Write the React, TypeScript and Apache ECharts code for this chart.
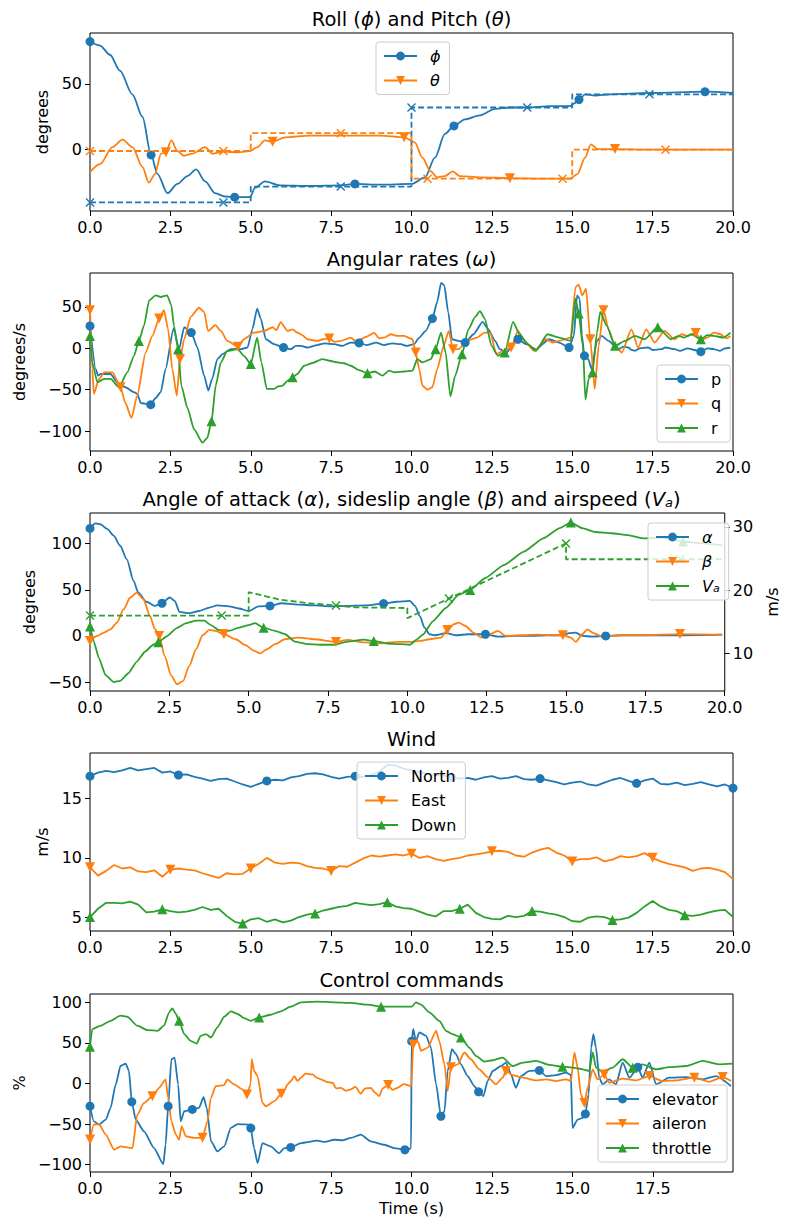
import { useEffect, useRef } from "react";
import * as echarts from "echarts";

type P = [number, number];

const FONT = "DejaVu Sans";
const C_BLUE = "#1f77b4";
const C_ORANGE = "#ff7f0e";
const C_GREEN = "#2ca02c";

// ---------- Plot 1: Roll and Pitch ----------
const PHI: P[] = [[0,82],[0.31,79],[0.62,72],[0.93,60],[1.32,42],[1.63,25],[1.9,-4],[2.1,-18.5],[2.41,-33],[2.72,-26],[3.03,-20],[3.3,-15],[3.58,-24],[3.89,-33],[4.2,-35.5],[4.5,-36],[4.98,-36],[5.13,-29],[5.44,-24],[5.91,-27],[6.84,-27.5],[7.78,-27],[8.24,-26],[9.02,-26.5],[10.0,-26],[10.42,-21],[10.73,-6],[11.04,12],[11.32,18],[11.66,23],[12.13,26],[12.6,31],[13.06,32],[13.61,32],[14.31,33],[14.93,33],[15.05,35],[15.21,38],[15.4,42],[15.71,41],[16.17,42],[17.42,43],[19.13,44],[20,43]];
const PHI_MARKS = [0, 1.9, 4.5, 8.24, 11.32, 15.21, 19.13];
const THETA: P[] = [[0,-17],[0.31,-11],[0.7,2],[1.01,7.6],[1.32,2],[1.63,-13],[1.83,-25],[2.02,-18.5],[2.21,-3],[2.36,-2],[2.53,7],[2.72,-1],[2.92,-4.6],[3.19,-3],[3.58,2],[3.81,-3],[4.17,-1.5],[4.6,-2],[4.98,-1],[5.21,2],[5.44,7],[5.68,6],[6.07,9.4],[6.84,10.7],[7.78,10.7],[9.02,10.7],[9.77,9.4],[10.1,5.6],[10.34,-6],[10.58,-16],[10.8,-21],[11.04,-20],[11.28,-16.5],[11.5,-20],[12.13,-21],[13.06,-21.6],[14.0,-22],[14.93,-22],[15.16,-18.5],[15.4,-6],[15.58,4],[15.79,0.5],[16.33,0.5],[17.42,0],[20,0]];
const THETA_MARKS = [2.36, 5.68, 9.77, 13.06, 16.33];
const PHI_REF: P[] = [[0,-40],[4.15,-40],[4.999,-40],[5,-28],[7.8,-28],[9.999,-28],[10,32],[13.6,32],[14.999,32],[15,42],[17.4,42],[20,42]];
const PHI_REF_MARKS = [0, 4.15, 7.8, 10, 13.6, 17.4];
const THETA_REF: P[] = [[0,-1],[4.15,-1],[4.999,-1],[5,12.5],[7.8,12.5],[9.999,12.5],[10,-22],[10.5,-22],[14.7,-22],[14.999,-22],[15,0],[17.9,0],[20,0]];
const THETA_REF_MARKS = [0, 4.15, 7.8, 10.5, 14.7, 17.9];

// ---------- Plot 2: Angular rates ----------
const P_RATE: P[] = [[0,27],[0.18,-25],[0.25,-33],[0.33,-31],[0.64,-31],[0.85,-41],[1.1,-47],[1.37,-53],[1.47,-55],[1.58,-66],[1.89,-68],[2.04,-60],[2.2,-53],[2.35,-25],[2.6,24],[2.77,-1],[2.93,25.5],[3.15,19],[3.34,1],[3.55,-33],[3.68,-51],[3.8,-37],[3.96,-13],[4.12,-7],[4.38,-1],[4.69,-1],[4.9,1],[5.05,23],[5.2,48],[5.31,36],[5.47,11],[5.73,5],[6.02,1],[6.25,-1],[6.4,3],[6.56,3],[6.75,1],[7.07,4],[7.3,6],[7.6,5],[7.85,3],[8.1,7],[8.37,6.5],[8.6,4],[8.9,7],[9.15,4],[9.4,6],[9.67,5],[9.85,3],[10.08,5],[10.24,13],[10.44,21],[10.65,36],[10.8,56],[10.92,79],[11.02,76],[11.14,44],[11.26,11],[11.47,9],[11.67,7],[11.93,17],[12.21,32],[12.39,23],[12.6,9],[12.75,-1],[12.95,-5],[13.31,11],[13.57,5],[13.87,-1],[14.28,11],[14.59,7],[14.9,1],[15.05,15],[15.15,64],[15.23,60],[15.3,15],[15.38,-9],[15.5,-13],[15.6,-25],[15.77,9],[15.92,15],[16.13,9],[16.43,-1],[16.6,2],[16.74,1],[16.85,-2],[16.95,-3],[17.1,0],[17.36,1],[17.5,-2],[17.77,-1],[17.9,1],[18.18,-1],[18.35,-3],[18.59,0],[18.8,-2],[19.0,-4],[19.2,0],[19.4,-1],[19.6,-3],[19.75,0],[19.92,1]];
const P_MARKS = [0, 1.89, 3.15, 6.02, 8.37, 10.65, 11.67, 13.31, 14.9, 15.38, 19.0];
const Q_RATE: P[] = [[0,46],[0.07,-25],[0.12,-55],[0.28,-37],[0.44,-29],[0.7,-29],[0.95,-47],[1.1,-66],[1.29,-84],[1.47,-57],[1.73,-5],[1.94,15],[2.15,36],[2.3,46],[2.43,23],[2.56,-25],[2.7,-57],[2.8,-13],[2.93,11],[3.13,38],[3.39,49],[3.55,44],[3.67,21],[3.9,28],[4.07,21],[4.27,9],[4.6,2],[4.79,11],[5.1,19],[5.42,21],[5.68,25.5],[5.8,22],[5.93,31.6],[6.14,21],[6.3,23],[6.45,19],[6.6,16],[6.76,11],[7.07,9],[7.25,11],[7.44,12],[7.6,8],[7.8,9],[8.11,13],[8.25,9],[8.42,11],[8.6,14],[8.84,18.6],[9.0,12],[9.15,13],[9.35,17],[9.56,15],[9.77,15],[10.03,11],[10.13,-5],[10.24,-25],[10.34,-45],[10.49,-50],[10.65,-47],[10.8,-25],[11.0,3],[11.16,21],[11.29,-1],[11.47,-1],[11.72,9],[12.03,13],[12.28,19],[12.45,19],[12.64,-7],[12.85,-3],[13.1,1],[13.31,21],[13.51,9],[13.82,-3],[14.18,11],[14.4,7],[14.59,9],[14.95,13],[15.1,74],[15.2,77],[15.31,64],[15.43,72],[15.56,11],[15.7,-49],[15.82,3],[15.97,46],[16.13,23],[16.33,3],[16.54,-5],[16.84,23],[17.05,1],[17.3,23],[17.56,7],[17.87,21],[18.18,11],[18.4,17],[18.59,15],[18.84,18.6],[19.0,10],[19.2,13],[19.4,19],[19.61,17],[19.8,12],[19.92,15]];
const Q_MARKS = [0, 0.95, 2.15, 2.8, 4.6, 7.44, 10.13, 11.29, 13.1, 15.56, 15.97, 18.84];
const R_RATE: P[] = [[0,15],[0.07,-17],[0.23,-41],[0.44,-37],[0.64,-37],[0.9,-47],[1.16,-29],[1.37,-9],[1.52,9],[1.68,27.5],[1.84,58],[2.04,64],[2.2,62],[2.4,64],[2.53,52],[2.61,27.5],[2.74,-1],[2.84,-45],[3.03,-72],[3.24,-98],[3.5,-114],[3.65,-108],[3.78,-88],[3.91,-45],[4.07,-17],[4.27,-3],[4.59,-1],[4.79,-9],[5.0,-19],[5.2,13],[5.33,-17],[5.5,-49],[5.73,-49],[5.85,-46],[5.99,-45],[6.15,-39],[6.3,-35],[6.45,-31],[6.66,-21],[6.9,-18],[7.23,-13],[7.45,-15],[7.7,-17],[7.9,-18],[8.11,-21],[8.35,-26],[8.63,-30],[8.85,-28],[9.1,-33],[9.3,-27],[9.47,-29],[9.77,-28],[10.03,-27],[10.18,-13],[10.34,-17],[10.6,-13],[10.75,-1],[10.92,19],[11.06,-5],[11.21,-58],[11.36,-33],[11.57,-7],[11.77,23],[11.98,38],[12.13,45],[12.28,36],[12.49,3],[12.69,-9],[12.9,-5],[13.16,32],[13.36,17],[13.62,5],[13.87,-3],[14.23,17],[14.59,13],[14.95,9],[15.1,60],[15.2,42],[15.33,3],[15.41,-62],[15.51,-37],[15.63,-29],[15.77,19],[15.87,44],[16.07,27.5],[16.33,3],[16.64,9],[16.95,15],[17.25,11],[17.66,25.5],[18.07,11],[18.3,15],[18.48,13],[18.7,17],[19.0,11],[19.2,16],[19.4,15],[19.7,13],[19.92,19]];
const R_MARKS = [0, 1.52, 2.74, 3.78, 5.0, 6.3, 8.63, 10.75, 11.57, 12.9, 15.2, 15.63, 16.33, 17.66, 19.0];

// ---------- Plot 3: alpha, beta, Va ----------
const ALPHA: P[] = [[0,116.5],[0.18,122],[0.33,121],[0.54,116],[0.75,108.5],[0.95,97.7],[1.16,83],[1.37,60],[1.52,47],[1.78,37],[2.04,32.5],[2.27,35.4],[2.51,41.6],[2.67,38],[2.82,26],[3.13,24.6],[3.44,27],[3.76,30.7],[4.01,33],[4.38,32],[4.69,29.7],[5.0,27],[5.31,32],[5.67,32.5],[6.04,35.4],[6.56,34],[7.07,33],[7.59,32],[8.11,32.5],[8.63,33],[9.25,35],[9.67,37],[10.08,38],[10.24,32.5],[10.39,21.7],[10.54,9],[10.7,1.8],[10.9,0.7],[11.21,3],[11.52,0.7],[11.93,1.8],[12.46,1.8],[12.85,-0.7],[13.36,0],[13.87,0],[14.39,0.7],[14.9,0.7],[15.1,3],[15.31,3.6],[15.51,0],[15.82,-0.7],[16.25,0],[16.74,0.7],[17.46,0.7],[18.48,0.7],[19.92,1.4]];
const ALPHA_MARKS = [0, 2.27, 5.67, 9.25, 12.46, 16.25];
const BETA: P[] = [[0,-5.4],[0.23,0],[0.44,3.6],[0.64,7],[0.85,14.5],[1.06,29],[1.27,41.6],[1.47,47],[1.68,40],[1.89,21.7],[2.04,8],[2.18,0],[2.35,-21.7],[2.56,-43],[2.74,-52.4],[2.93,-49],[3.13,-32.5],[3.34,-14.5],[3.55,0.7],[3.76,6.5],[3.96,5.4],[4.22,1.8],[4.59,-3.6],[4.9,-10],[5.16,-16],[5.36,-19],[5.57,-14.5],[5.83,-9],[6.14,-3.6],[6.56,-1.8],[7.07,-3.6],[7.75,-6.5],[8.11,-4.3],[8.63,-7],[9.15,-8],[9.67,-6.5],[10.08,-6.5],[10.39,-5.4],[10.7,-3.6],[11.06,-1.8],[11.26,6.5],[11.47,12.7],[11.62,14.5],[11.82,11],[12.08,3.6],[12.34,-1.8],[12.59,1.8],[12.85,5.4],[13.1,0],[13.57,0.7],[14.08,1.4],[14.59,0.7],[14.9,0.7],[15.15,-1.8],[15.31,-6.5],[15.51,1.8],[15.67,7],[15.87,3],[16.13,-0.7],[16.74,0.7],[17.46,0.7],[18.59,2],[19.92,1.4]];
const BETA_MARKS = [0, 2.18, 4.22, 7.75, 11.26, 14.9, 18.59];
const VA: P[] = [[0,14.3],[0.12,11.9],[0.28,9.3],[0.49,6.6],[0.75,5.5],[0.95,5.7],[1.21,6.9],[1.47,8.7],[1.73,10.3],[1.99,11.4],[2.15,11.8],[2.41,12.7],[2.72,14.0],[3.03,14.8],[3.34,15.2],[3.6,15.2],[3.81,14.5],[4.07,13.7],[4.38,13.6],[4.69,14.1],[5.0,14.5],[5.2,14.8],[5.47,14.1],[5.83,13.6],[6.14,13.1],[6.45,11.9],[6.87,11.5],[7.28,11.4],[7.7,11.4],[8.11,11.9],[8.63,12.2],[8.94,12.0],[9.36,11.6],[9.77,11.5],[10.08,11.4],[10.29,12.2],[10.49,13.0],[10.8,15.1],[11.21,17.2],[11.62,19.3],[11.98,20.05],[12.44,21.9],[13.05,24.0],[13.67,26.1],[14.28,28.2],[14.8,29.8],[15.15,30.7],[15.51,29.8],[15.92,29.2],[16.43,29.0],[16.95,28.7],[17.46,28.2],[17.97,28.3],[18.69,27.7],[19.3,27.4],[19.92,27.1]];
const VA_MARKS = [0, 2.15, 5.47, 8.94, 11.98, 15.15, 18.69];
const VA_REF: P[] = [[0,16.0],[4.15,16.0],[4.999,16.0],[5,19.7],[6.0,18.5],[7.0,17.9],[7.75,17.6],[8.4,17.3],[9.999,17.2],[10,15.6],[11.31,18.7],[14.999,27.4],[15,24.9],[18.6,24.9],[20,24.9]];
const VA_REF_MARKS = [0, 4.15, 7.75, 11.31, 14.999, 18.6];

// ---------- Plot 4: Wind ----------
const WIND_T = [0,0.25,0.5,0.75,1,1.25,1.5,1.75,2,2.25,2.5,2.75,3,3.25,3.5,3.75,4,4.25,4.5,4.75,5,5.25,5.5,5.75,6,6.25,6.5,6.75,7,7.25,7.5,7.75,8,8.25,8.5,8.75,9,9.25,9.5,9.75,10,10.25,10.5,10.75,11,11.25,11.5,11.75,12,12.25,12.5,12.75,13,13.25,13.5,13.75,14,14.25,14.5,14.75,15,15.25,15.5,15.75,16,16.25,16.5,16.75,17,17.25,17.5,17.75,18,18.25,18.5,18.75,19,19.25,19.5,19.75,20];
const NORTH = [16.9,17.2,17.35,17.25,17.4,17.6,17.4,17.5,17.6,17.2,17.3,17.0,17.05,16.85,16.7,16.5,16.65,16.7,16.45,16.2,16.0,16.25,16.5,16.6,16.55,16.8,16.9,17.1,17.15,17.05,16.85,16.7,16.85,16.9,16.85,17.0,17.3,17.85,17.8,17.55,17.4,17.25,17.1,17.0,16.95,16.8,16.7,16.75,16.6,16.8,16.9,16.7,16.75,16.9,16.65,16.6,16.7,16.55,16.4,16.2,16.35,16.45,16.2,16.1,16.35,16.6,16.75,16.5,16.3,16.55,16.7,16.25,16.2,16.35,16.15,16.25,16.4,16.2,16.05,16.2,15.9];
const NORTH_MARKS = [0, 2.75, 5.5, 8.25, 11.25, 14, 17, 20];
const EAST = [9.2,8.5,8.9,9.4,9.1,9.2,8.85,8.8,8.95,8.4,9.0,9.1,9.0,8.95,8.7,8.5,8.3,8.7,8.6,8.65,9.1,9.5,10.0,9.6,9.5,9.6,9.55,9.3,9.15,9.1,8.9,9.3,9.25,9.6,9.95,10.2,10.1,10.2,10.3,10.2,10.35,10.0,10.15,9.9,9.75,9.9,10.0,10.2,10.3,10.4,10.55,10.6,10.5,10.2,10.1,10.45,10.7,10.85,10.45,10.2,9.7,9.9,9.9,10.05,9.7,9.85,10.15,10.05,10.15,10.4,10.0,9.7,9.5,9.35,9.2,8.9,9.1,9.15,9.0,8.8,8.2];
const EAST_MARKS = [0, 2.5, 5, 7.5, 10, 12.5, 15, 17.5];
const DOWN = [5.0,5.7,6.2,6.2,6.15,6.3,6.05,5.4,5.45,5.65,5.5,5.4,5.45,5.6,5.85,5.6,5.7,5.1,4.6,4.45,4.8,4.9,4.6,4.8,4.55,4.7,5.0,5.2,5.3,5.55,5.7,5.85,5.95,6.2,6.1,6.0,6.1,6.25,5.9,5.75,5.7,5.45,5.2,5.05,5.5,5.5,5.7,6.05,5.35,5.0,4.85,4.8,5.1,5.0,5.1,5.5,5.45,5.3,5.2,5.0,4.65,4.6,4.95,5.05,5.0,4.75,4.8,4.95,5.35,5.9,6.35,5.9,5.6,5.5,5.15,5.1,5.2,5.4,5.55,5.6,5.0];
const DOWN_MARKS = [0, 2.25, 4.75, 7, 9.25, 11.5, 13.75, 16.25, 18.5];

// ---------- Plot 5: Control commands ----------
const ELEVATOR: P[] = [[0,-28],[0.12,-46.6],[0.28,-50.7],[0.49,-44.5],[0.64,-30],[0.8,-1.2],[0.95,21.4],[1.11,24.3],[1.21,15.3],[1.3,-22.7],[1.42,-44.5],[1.68,-59],[1.99,-79.6],[2.28,-99.4],[2.35,-75.5],[2.43,-28],[2.53,29.7],[2.63,31.8],[2.74,-1.2],[2.82,-46.6],[2.93,-34.2],[3.18,-32],[3.39,-30],[3.53,-17],[3.63,-30],[3.76,-71],[3.96,-83.7],[4.17,-77.5],[4.38,-54.8],[4.59,-50],[4.99,-50.7],[5.0,-55],[5.1,-79.6],[5.21,-98],[5.36,-73.4],[5.62,-77.5],[5.88,-85.8],[6.04,-79.6],[6.24,-78.8],[6.56,-73.4],[7.07,-70.5],[7.3,-72],[7.59,-69.3],[7.85,-70],[8.11,-67],[8.42,-63],[8.73,-71.3],[9.15,-75.5],[9.46,-79.6],[9.79,-81.6],[9.98,-80],[10.0,52],[10.05,67],[10.13,52],[10.24,62.7],[10.45,58.6],[10.6,44],[10.76,-1.2],[10.91,-40.4],[11.02,-34.2],[11.12,15.3],[11.25,42],[11.38,35.9],[11.53,23.5],[11.74,9],[11.95,-3.3],[12.08,-10.3],[12.23,-15.7],[12.36,2.9],[12.52,15.3],[12.78,21.4],[12.93,25.6],[13.09,11],[13.24,-5.4],[13.4,9],[13.66,15.3],[13.97,16],[14.18,9],[14.49,10.3],[14.8,13.2],[14.95,10.3],[15.0,-54.8],[15.16,-44.5],[15.32,-42.5],[15.4,-37.5],[15.5,-13.6],[15.58,44],[15.65,60.6],[15.73,44],[15.83,7],[15.94,-1.2],[16.14,5],[16.35,-1.2],[16.56,25.6],[16.77,7],[17.03,20],[17.18,7],[17.39,25.6],[17.6,-1.2],[18.01,7],[18.53,7.8],[19.05,5],[19.46,9],[19.93,-3.3]];
const ELEVATOR_MARKS = [0, 1.3, 2.43, 3.18, 5.0, 6.24, 9.79, 10.0, 10.91, 12.08, 13.97, 15.4, 17.03];
const AILERON: P[] = [[0,-69],[0.12,-50.7],[0.28,-50],[0.49,-63],[0.75,-81.6],[0.95,-77.5],[1.16,-78.8],[1.32,-79.6],[1.47,-38.4],[1.68,-24],[1.94,-15.7],[2.15,-5.4],[2.35,5],[2.43,-17.7],[2.53,-46.6],[2.67,-63],[2.77,-69],[2.85,-52.8],[2.98,-65],[3.24,-67],[3.5,-67],[3.65,-46.6],[3.76,-17.7],[3.91,-3.3],[4.17,-2],[4.27,5],[4.48,-1.2],[4.74,-7.4],[4.88,-13.6],[4.99,-1.2],[5.03,29.7],[5.1,15.3],[5.21,9],[5.36,-24],[5.47,-28],[5.73,-21.9],[5.95,-12.8],[6.05,-8],[6.14,-1.2],[6.25,3],[6.35,9],[6.45,3],[6.56,7],[6.7,12],[6.92,11],[7.05,7],[7.18,5],[7.35,2],[7.54,0.8],[7.65,-6],[7.8,-5.4],[7.95,-9],[8.11,-7.4],[8.25,-4],[8.42,-12.8],[8.55,-6],[8.73,-5.4],[8.85,-11],[8.99,-15.7],[9.1,-6],[9.27,-2],[9.4,-8],[9.56,-5.4],[9.75,-1],[9.99,-3.3],[10.05,48],[10.19,52],[10.29,40],[10.5,44],[10.76,64.7],[10.86,52],[11.02,23.5],[11.12,-9.5],[11.22,20],[11.43,23.5],[11.64,38],[11.84,29.7],[12.1,17.3],[12.36,7.8],[12.62,-1.2],[12.83,7],[12.93,15.3],[13.14,10.3],[13.45,7],[13.87,3.7],[14.18,5],[14.49,2.9],[14.8,5],[14.95,2.9],[15.06,38],[15.16,19.4],[15.26,-13.6],[15.37,-24],[15.47,-5.4],[15.63,17.3],[15.78,5],[15.99,11],[16.14,0.8],[16.56,6],[16.97,3.7],[17.39,9],[17.8,2.9],[18.22,3.7],[18.79,7],[19.25,2],[19.67,7.8],[19.93,2.9]];
const AILERON_MARKS = [0, 1.94, 3.5, 4.88, 5.95, 9.27, 10.05, 11.22, 12.93, 15.37, 15.99, 17.39, 18.79, 19.67];
const THROTTLE: P[] = [[0,45],[0.07,66.8],[0.33,71],[0.64,77],[0.95,83.3],[1.16,82],[1.47,71],[1.78,65.6],[2.1,64.7],[2.3,71],[2.46,87.4],[2.56,92.4],[2.67,85.4],[2.77,77],[2.93,60.6],[3.13,52.4],[3.32,49],[3.44,58.6],[3.6,60.6],[3.76,56.5],[3.96,68.9],[4.17,82],[4.38,88.7],[4.59,85.4],[4.79,80.4],[5.0,77],[5.26,81.2],[5.62,84.5],[5.93,88.7],[6.24,94.4],[6.56,99.8],[7.07,100.6],[7.59,99.8],[8.11,99],[8.63,96.9],[9.05,94.4],[9.56,94.4],[10.0,94.4],[10.13,99.8],[10.29,96.9],[10.55,87.4],[10.86,77],[11.07,64.7],[11.27,60.6],[11.53,56.5],[11.79,44],[12.0,33.8],[12.26,26.8],[12.52,28.5],[12.83,31.8],[13.14,21.4],[13.45,25.6],[13.87,27.6],[14.28,22.7],[14.69,20.6],[15.0,19.4],[15.32,17.3],[15.52,15.3],[15.63,38],[15.73,19.4],[15.94,14.4],[16.25,19.4],[16.56,29.7],[16.87,19.4],[17.18,23.5],[17.6,17.3],[18.01,20],[18.53,21.4],[19.05,27.6],[19.56,23.5],[19.98,24.3]];
const THROTTLE_MARKS = [0, 2.77, 5.26, 9.05, 11.53, 14.69, 16.87];

// ---------- axes ----------
const X_TICKS = [0, 2.5, 5, 7.5, 10, 12.5, 15, 17.5, 20];
const X_TICKS_LAST = [0, 2.5, 5, 7.5, 10, 12.5, 15, 17.5];
const Y1_TICKS = [0, 50];
const Y2_TICKS = [-100, -50, 0, 50];
const Y3_TICKS = [-50, 0, 50, 100];
const Y3R_TICKS = [10, 20, 30];
const Y4_TICKS = [5, 10, 15];
const Y5_TICKS = [-100, -50, 0, 50, 100];

const GRID_TOPS = [33, 273, 513, 753, 994];
const GRID_H = 178;
const GRID_L = 90;
const GRID_W = 643;

const TITLES = [
  "Roll ({i|ϕ}) and Pitch ({i|θ})",
  "Angular rates ({i|ω})",
  "Angle of attack ({i|α}), sideslip angle ({i|β}) and airspeed ({i|V}{s|a})",
  "Wind",
  "Control commands",
];

const TICK_FS = 16;
const TITLE_FS = 19.5;
const LW = 1.8;

const fmtY = (v: number) => (v < 0 ? "\u2212" + String(-v) : String(v));

function withMarkers(data: P[], marks: number[]) {
  return data.map(([t, v]) =>
    marks.some((m) => Math.abs(m - t) < 1e-6) ? { value: [t, v] } : { value: [t, v], symbol: "none" }
  );
}
function pairs(ts: number[], vs: number[]): P[] {
  return ts.map((t, i) => [t, vs[i]] as P);
}

function lineSeries(
  name: string, data: P[], marks: number[], color: string, kind: "o" | "v" | "^" | "x",
  xi: number, yi: number, smooth: number | false, dashed = false
) {
  const sym = kind === "o" ? "circle" : kind === "x" ? "path://M0,0L10,10M10,0L0,10" : "triangle";
  const size = kind === "o" ? 9 : kind === "x" ? 8 : 10;
  return {
    type: "line",
    name,
    xAxisIndex: xi,
    yAxisIndex: yi,
    data: withMarkers(data, marks),
    symbol: sym,
    symbolSize: size,
    symbolRotate: kind === "v" ? 180 : 0,
    showSymbol: true,
    showAllSymbol: true,
    smooth,
    smoothMonotone: smooth ? "x" : undefined,
    silent: true,
    lineStyle: { color, width: LW, type: dashed ? [6, 3] : "solid" },
    itemStyle:
      kind === "x"
        ? { color: "rgba(0,0,0,0)", borderColor: color, borderWidth: 1.4 }
        : { color },
    emphasis: { disabled: true },
    z: dashed ? 3 : 2,
  };
}

function xAxis(gi: number, max: number, ticks: number[], name?: string) {
  return {
    type: "value",
    gridIndex: gi,
    min: 0,
    max,
    name,
    nameLocation: "middle",
    nameGap: 28,
    nameTextStyle: { fontSize: TICK_FS, color: "#000", fontFamily: FONT },
    axisLine: { show: false, onZero: false },
    splitLine: { show: false },
    axisTick: { show: true, inside: false, length: 5, lineStyle: { color: "#000", width: 1 }, customValues: ticks },
    axisLabel: {
      show: true, margin: 8, fontSize: TICK_FS, color: "#000", fontFamily: FONT,
      customValues: ticks, formatter: (v: number) => v.toFixed(1),
    },
  };
}

function yAxis(gi: number, min: number, max: number, ticks: number[], name: string, nameGap: number, position = "left") {
  return {
    type: "value",
    gridIndex: gi,
    min,
    max,
    position,
    name,
    nameLocation: "middle",
    nameGap,
    nameTextStyle: { fontSize: TICK_FS, color: "#000", fontFamily: FONT },
    axisLine: { show: false, onZero: false },
    splitLine: { show: false },
    axisTick: { show: true, inside: false, length: 5, lineStyle: { color: "#000", width: 1 }, customValues: ticks },
    axisLabel: {
      show: true, margin: 8, fontSize: TICK_FS, color: "#000", fontFamily: FONT,
      customValues: ticks, formatter: fmtY,
    },
  };
}

const LEGEND_RICH = {
  i: { fontStyle: "italic", fontSize: 16, fontFamily: FONT, color: "#000", lineHeight: 16 },
  n: { fontSize: 16, fontFamily: FONT, color: "#000", lineHeight: 16 },
  s: { fontStyle: "italic", fontSize: 11, fontFamily: FONT, color: "#000", lineHeight: 10, verticalAlign: "bottom" },
};

function legend(left: number, top: number, data: string[], italic: boolean) {
  return {
    left,
    top,
    orient: "vertical",
    data,
    selectedMode: false,
    backgroundColor: "rgba(255,255,255,0.8)",
    borderColor: "#cccccc",
    borderWidth: 1,
    borderRadius: 3,
    padding: [6, 9, 6, 7],
    itemGap: 8.5,
    itemWidth: 33,
    itemHeight: 11,
    formatter: (name: string) => {
      if (!italic) return "{n|" + name + "}";
      if (name === "Va") return "{i|V}{s|a}";
      return "{i|" + name + "}";
    },
    textStyle: { fontSize: 16, fontFamily: FONT, color: "#000", padding: [0, 0, 0, 8], rich: LEGEND_RICH },
  };
}

export default function App() {
  const ref = useRef<HTMLDivElement>(null);
  useEffect(() => {
    document.body.style.margin = "0";
    if (!ref.current) return;
    const chart = echarts.init(ref.current, undefined, { renderer: "svg" });

    const grids = GRID_TOPS.map((top) => ({
      left: GRID_L, top, width: GRID_W, height: GRID_H,
      show: true, borderColor: "#000", borderWidth: 1, backgroundColor: "transparent", containLabel: false,
    }));

    const series = [
      lineSeries("ϕ", PHI, PHI_MARKS, C_BLUE, "o", 0, 0, 0.3),
      lineSeries("θ", THETA, THETA_MARKS, C_ORANGE, "v", 0, 0, 0.3),
      lineSeries("phi_ref", PHI_REF, PHI_REF_MARKS, C_BLUE, "x", 0, 0, false, true),
      lineSeries("theta_ref", THETA_REF, THETA_REF_MARKS, C_ORANGE, "x", 0, 0, false, true),

      lineSeries("p", P_RATE, P_MARKS, C_BLUE, "o", 1, 1, 0.2),
      lineSeries("q", Q_RATE, Q_MARKS, C_ORANGE, "v", 1, 1, 0.2),
      lineSeries("r", R_RATE, R_MARKS, C_GREEN, "^", 1, 1, 0.2),

      lineSeries("α", ALPHA, ALPHA_MARKS, C_BLUE, "o", 2, 2, 0.25),
      lineSeries("β", BETA, BETA_MARKS, C_ORANGE, "v", 2, 2, 0.25),
      lineSeries("Va", VA, VA_MARKS, C_GREEN, "^", 2, 3, 0.15),
      lineSeries("va_ref", VA_REF, VA_REF_MARKS, C_GREEN, "x", 2, 3, false, true),

      lineSeries("North", pairs(WIND_T, NORTH), NORTH_MARKS, C_BLUE, "o", 3, 4, false),
      lineSeries("East", pairs(WIND_T, EAST), EAST_MARKS, C_ORANGE, "v", 3, 4, false),
      lineSeries("Down", pairs(WIND_T, DOWN), DOWN_MARKS, C_GREEN, "^", 3, 4, false),

      lineSeries("elevator", ELEVATOR, ELEVATOR_MARKS, C_BLUE, "o", 4, 5, 0.2),
      lineSeries("aileron", AILERON, AILERON_MARKS, C_ORANGE, "v", 4, 5, 0.2),
      lineSeries("throttle", THROTTLE, THROTTLE_MARKS, C_GREEN, "^", 4, 5, 0.2),
    ];

    const option = {
      animation: false,
      textStyle: { fontFamily: FONT },
      grid: grids,
      xAxis: [
        xAxis(0, 20, X_TICKS),
        xAxis(1, 20, X_TICKS),
        xAxis(2, 20, X_TICKS),
        xAxis(3, 20, X_TICKS),
        xAxis(4, 19.99, X_TICKS_LAST, "Time (s)"),
      ],
      yAxis: [
        yAxis(0, -46.5, 88.5, Y1_TICKS, "degrees", 36),
        yAxis(1, -124, 91, Y2_TICKS, "degrees/s", 60),
        yAxis(2, -59.7, 133.2, Y3_TICKS, "degrees", 50),
        yAxis(2, 4.1, 32.2, Y3R_TICKS, "m/s", 33, "right"),
        yAxis(3, 3.82, 18.86, Y4_TICKS, "m/s", 36),
        yAxis(4, -109, 110, Y5_TICKS, "%", 61),
      ],
      legend: [
        legend(376, 42, ["ϕ", "θ"], true),
        legend(657, 365, ["p", "q", "r"], false),
        legend(648, 523, ["α", "β", "Va"], true),
        legend(357, 762, ["North", "East", "Down"], false),
        legend(598, 1085, ["elevator", "aileron", "throttle"], false),
      ],
      graphic: TITLES.map((text, i) => ({
        type: "text",
        x: GRID_L + GRID_W / 2,
        y: GRID_TOPS[i] - 14,
        style: {
          text,
          fill: "#000",
          fontSize: TITLE_FS,
          fontFamily: FONT,
          align: "center",
          verticalAlign: "middle",
          rich: {
            i: { fontStyle: "italic", fontSize: TITLE_FS, fontFamily: FONT, fill: "#000" },
            s: { fontStyle: "italic", fontSize: 13, fontFamily: FONT, fill: "#000", verticalAlign: "bottom", lineHeight: 12 },
          },
        },
      })),
      series,
    };
    chart.setOption(option as any);
    return () => chart.dispose();
  }, []);
  return <div ref={ref} style={{ width: 788, height: 1221 }} />;
}
